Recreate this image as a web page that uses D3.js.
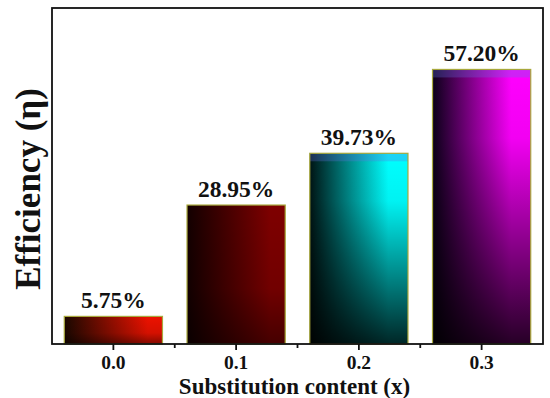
<!DOCTYPE html>
<html><head><meta charset="utf-8">
<script src="https://cdn.jsdelivr.net/npm/d3@7"></script>
<style>html,body{margin:0;padding:0;background:#fff;}svg{display:block;}</style>
</head><body>
<script>
const categories = ["0.0", "0.1", "0.2", "0.3"];
const efficiency = [5.75, 28.95, 39.73, 57.20];
const valueLabels = ["5.75%", "28.95%", "39.73%", "57.20%"];
const darkColors = ["#1a0800", "#120000", "#001414", "#0a0018"];
const brightColors = ["#ec1200", "#7e0000", "#00ffff", "#ff00ff"];
const xTitle = "Substitution content (x)";
const yTitle = "Efficiency (\u03b7)";

const W = 550, H = 398;
const L = 52, R = 543, T = 8, B = 344;
const font = "Liberation Serif, Times New Roman, Times, serif";

const svg = d3.select("body").append("svg").attr("width", W).attr("height", H);
const defs = svg.append("defs");

const x = d3.scaleBand().domain(categories).range([L, R]).paddingInner(0.2).paddingOuter(0.1);
const y = d3.scaleLinear().domain([0, 70]).range([B, T]);

categories.forEach((c, i) => {
  const g = defs.append("linearGradient").attr("id", "h" + i)
    .attr("x1", "0%").attr("y1", "0%").attr("x2", "100%").attr("y2", "0%");
  g.append("stop").attr("offset", "0%").attr("stop-color", darkColors[i]);
  g.append("stop").attr("offset", i < 2 ? "85%" : "80%").attr("stop-color", brightColors[i]);
  g.append("stop").attr("offset", "100%").attr("stop-color", brightColors[i]);
});
const vs = defs.append("linearGradient").attr("id", "vshade")
  .attr("x1", "0%").attr("y1", "0%").attr("x2", "0%").attr("y2", "100%");
vs.append("stop").attr("offset", "0%").attr("stop-color", "#000").attr("stop-opacity", 0);
vs.append("stop").attr("offset", "25%").attr("stop-color", "#000").attr("stop-opacity", 0.05);
vs.append("stop").attr("offset", "100%").attr("stop-color", "#000").attr("stop-opacity", 0.85);
const vs2 = defs.append("linearGradient").attr("id", "vshade2")
  .attr("x1", "0%").attr("y1", "0%").attr("x2", "0%").attr("y2", "100%");
vs2.append("stop").attr("offset", "0%").attr("stop-color", "#000").attr("stop-opacity", 0);
vs2.append("stop").attr("offset", "60%").attr("stop-color", "#000").attr("stop-opacity", 0.1);
vs2.append("stop").attr("offset", "100%").attr("stop-color", "#000").attr("stop-opacity", 0.45);

const bars = svg.append("g");
categories.forEach((c, i) => {
  const bx = x(c), bw = x.bandwidth(), by = y(efficiency[i]), bh = y(0) - y(efficiency[i]);
  bars.append("rect").attr("x", bx).attr("y", by).attr("width", bw).attr("height", bh)
    .attr("fill", `url(#h${i})`);
  bars.append("rect").attr("x", bx).attr("y", by).attr("width", bw).attr("height", bh)
    .attr("fill", i >= 2 ? "url(#vshade)" : "url(#vshade2)");
  if (i >= 2) {
    bars.append("rect").attr("x", bx).attr("y", by).attr("width", bw).attr("height", 8)
      .attr("fill", "#6070e0").attr("opacity", 0.3);
  }
  bars.append("rect").attr("x", bx).attr("y", by).attr("width", bw).attr("height", bh)
    .attr("fill", "none").attr("stroke", "#a8a83c").attr("stroke-width", 1.2);
  svg.append("text").attr("x", bx + bw / 2).attr("y", by - 8)
    .attr("text-anchor", "middle").style("font-family", font).attr("font-weight", "bold")
    .attr("font-size", 23.5).attr("fill", "#111").text(valueLabels[i]);
});

// frame
svg.append("rect").attr("x", L).attr("y", T).attr("width", R - L).attr("height", B - T)
  .attr("fill", "none").attr("stroke", "#111").attr("stroke-width", 1.8);

// x axis
const ax = svg.append("g").attr("transform", `translate(0,${B})`)
  .call(d3.axisBottom(x).tickSize(6).tickSizeOuter(0).tickPadding(5));
ax.select(".domain").remove();
ax.selectAll(".tick line").attr("stroke", "#111").attr("stroke-width", 1.8);
ax.selectAll(".tick text").style("font-family", font).attr("font-weight", "bold")
  .attr("font-size", 19.5).attr("fill", "#111");

// minor ticks at band boundaries
const step = x.step();
categories.slice(0, -1).forEach(c => {
  const mx = x(c) + x.bandwidth() + (step - x.bandwidth()) / 2;
  svg.append("line").attr("x1", mx).attr("x2", mx).attr("y1", B).attr("y2", B + 4)
    .attr("stroke", "#111").attr("stroke-width", 1.8);
});

svg.append("text").attr("x", (L + R) / 2 - 3).attr("y", 394)
  .attr("text-anchor", "middle").style("font-family", font).attr("font-weight", "bold")
  .attr("font-size", 23).attr("fill", "#111").text(xTitle);

svg.append("text").attr("transform", `translate(40,${(T + B) / 2 + 13}) rotate(-90)`)
  .attr("text-anchor", "middle").style("font-family", font).attr("font-weight", "bold")
  .attr("font-size", 35).attr("fill", "#111").text(yTitle);
</script>
</body></html>
